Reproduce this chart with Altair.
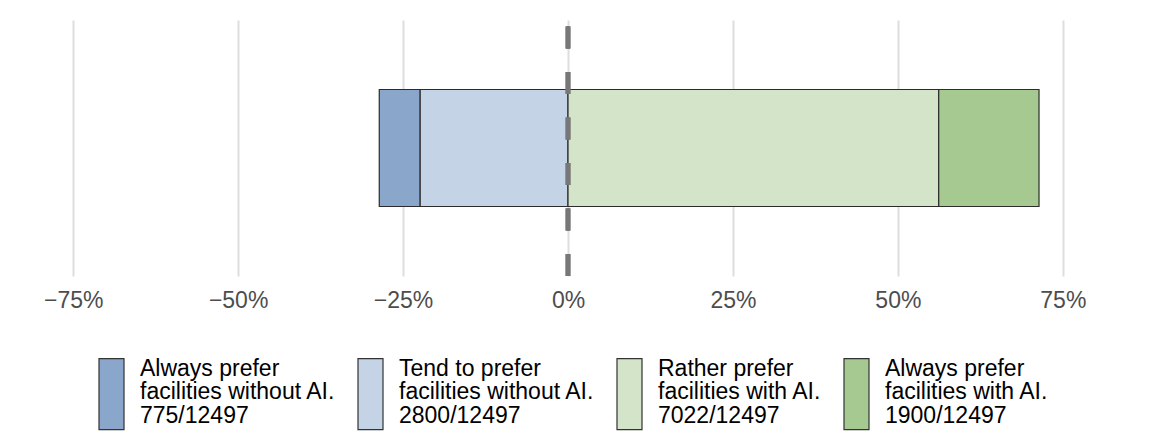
import altair as alt
import pandas as pd

# ---- data ----
line1 = ["Always prefer", "Tend to prefer", "Rather prefer", "Always prefer"]
line2 = ["facilities without AI.", "facilities without AI.", "facilities with AI.", "facilities with AI."]
counts = [775, 2800, 7022, 1900]
total = 12497
direction = [-1, -1, 1, 1]
colors = ["#8ba6cb", "#c4d3e6", "#d4e4c9", "#a6c991"]
tick_values = [-0.75, -0.5, -0.25, 0, 0.25, 0.5, 0.75]

# ---- derived table ----
shares = [c / total for c in counts]
neg_total = sum(s for s, d in zip(shares, direction) if d < 0)
starts, ends = [], []
pos = -neg_total
for s in shares:
    starts.append(pos)
    pos += s
    ends.append(pos)
labels = [f"{a}|{b}|{c}/{total}" for a, b, c in zip(line1, line2, counts)]
df = pd.DataFrame({"label": labels, "start": starts, "end": ends, "row": ["all"] * 4,
                   "order": list(range(4))})

W, H = 1082, 256
FONT = "Liberation Sans"

xscale = alt.Scale(domain=[-0.82, 0.82], nice=False, zero=False)

bars = alt.Chart(df).mark_bar(size=117, stroke="#2b2b2b", strokeWidth=1.2).encode(
    x=alt.X("start:Q", scale=xscale,
            axis=alt.Axis(values=tick_values, format=".0%", title=None, domain=False,
                          ticks=False, grid=True, gridColor="#dedede", gridWidth=2,
                          labelFontSize=23, labelColor="#4d4d4d", labelPadding=13,
                          labelFont=FONT)),
    x2="end:Q",
    y=alt.Y("row:N", axis=None),
    color=alt.Color("label:N",
                    scale=alt.Scale(domain=labels, range=colors),
                    legend=alt.Legend(title=None, orient="none", legendX=71, legendY=335,
                                      direction="horizontal", columns=4, columnPadding=19,
                                      padding=0,
                                      symbolType="M-1,-0.8H1V4.88H-1Z", symbolSize=625,
                                      symbolStrokeColor="#333333", symbolStrokeWidth=1.2,
                                      symbolOpacity=1,
                                      labelExpr="split(datum.label, '|')",
                                      labelFontSize=23, labelColor="#000000", labelFont=FONT,
                                      labelOffset=15, labelLimit=500)),
    order=alt.Order("order:Q"),
)

zero = alt.Chart(df).mark_rule(color="#777777", strokeWidth=4.5, strokeDash=[22, 23.5]).encode(
    x=alt.datum(0, scale=xscale),
    y=alt.value(H),
    y2=alt.value(0),
)

chart = alt.layer(bars, zero).properties(
    width=W, height=H,
    autosize=alt.AutoSizeParams(type="none"),
    padding={"left": 19, "top": 12, "right": 30, "bottom": 158},
).configure(
    font=FONT,
    view=alt.ViewConfig(stroke=None),
    style={"guide-label": {"lineHeight": 23.5}},
)

chart.save("out.html", embed_options={"renderer": "svg", "actions": False})
